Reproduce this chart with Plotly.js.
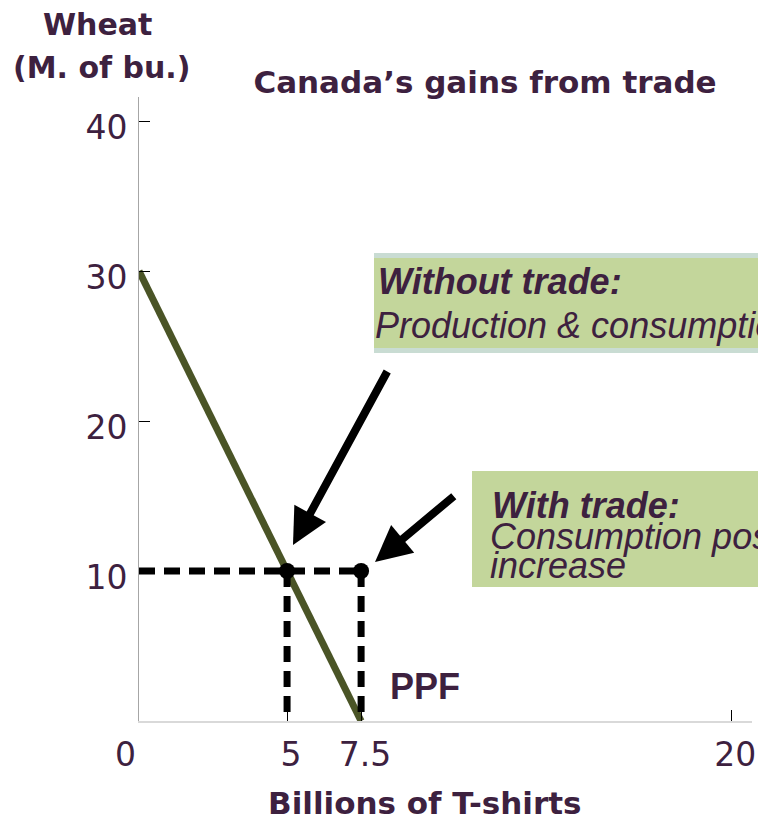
<!DOCTYPE html>
<html>
<head>
<meta charset="utf-8">
<script src="https://cdn.plot.ly/plotly-3.0.1.min.js"></script>
<style>html,body{margin:0;padding:0;background:#fff;}#chart{width:758px;height:822px;}</style>
</head>
<body>
<div id="chart"></div>
<script>
// ---- data ----
const ppfTshirts = [0, 7.5];
const ppfWheat = [30, 0];
const pointNames = ['Without trade', 'With trade'];
const pointTshirts = [5, 7.5];
const pointWheat = [10, 10];
const xTickVals = [5, 7.5, 20];
const xTickText = ['5', '7.5', '20'];
const yTickVals = [10, 20, 30, 40];
const yTickText = ['10', '20', '30', '40'];

const TXT = '#3d213f';
const WIDE = 'DejaVu Sans';
const ARIAL = 'Liberation Sans, Arial';

// dashed guide lines built from the points
const dashX = [0, Math.max(...pointTshirts), null];
const dashY = [pointWheat[0], pointWheat[pointWheat.length - 1], null];
pointTshirts.forEach((t, i) => { dashX.push(t, t, null); dashY.push(pointWheat[i], 0, null); });

const traces = [
  {x: ppfTshirts, y: ppfWheat, mode: 'lines', name: 'PPF',
   line: {color: '#4a5426', width: 7}, hoverinfo: 'skip', cliponaxis: false},
  {x: dashX, y: dashY, mode: 'lines', name: 'guides',
   line: {color: '#000', width: 7, dash: '16px,9px'}, hoverinfo: 'skip'},
  {x: pointTshirts, y: pointWheat, mode: 'markers', name: 'points', text: pointNames,
   marker: {color: '#000', size: 16}, cliponaxis: false}
];

const W = 613, H = 624, L = 139, T = 97;
const px = v => (v - L) / W;          // pixel x -> paper
const py = v => (T + H - v) / H;      // pixel y -> paper

const layout = {
  width: 758, height: 822,
  margin: {l: L, r: 6, t: T, b: 101, pad: 0},
  paper_bgcolor: '#fff', plot_bgcolor: '#fff',
  showlegend: false,
  font: {family: WIDE, color: TXT},
  title: {text: 'Canada’s gains from trade', font: {family: WIDE, size: 31, weight: 'bold', color: TXT},
          x: 485 / 758, xanchor: 'center', xref: 'container', y: 1 - 82 / 822, yanchor: 'middle', yref: 'container'},
  xaxis: {range: [0, 20.7], showgrid: false, zeroline: false, showline: true, linecolor: '#d9d9d9', linewidth: 2,
          ticks: 'inside', ticklen: 11, tickcolor: '#000', tickwidth: 1,
          tickmode: 'array', tickvals: xTickVals, ticktext: xTickText, ticklabelshift: 4, ticklabelstandoff: 3,
          tickfont: {family: WIDE, size: 33, color: TXT}, fixedrange: true},
  yaxis: {range: [0, 41.6], showgrid: false, zeroline: false, showline: true, linecolor: '#a6a6a6', linewidth: 1,
          ticks: 'inside', ticklen: 11, tickcolor: '#000', tickwidth: 1,
          tickmode: 'array', tickvals: yTickVals, ticktext: yTickText, ticklabelstandoff: 4, ticklabelshift: 6,
          tickfont: {family: WIDE, size: 33, color: TXT}, fixedrange: true},
  shapes: [
    {type: 'rect', xref: 'paper', yref: 'paper', x0: px(374), x1: px(770), y0: py(353), y1: py(253),
     fillcolor: '#c9dcd3', line: {width: 0}, layer: 'below'},
    {type: 'rect', xref: 'paper', yref: 'paper', x0: px(374), x1: px(770), y0: py(348), y1: py(258),
     fillcolor: '#c3d69b', line: {width: 0}, layer: 'below'},
    {type: 'rect', xref: 'paper', yref: 'paper', x0: px(472), x1: px(770), y0: py(587), y1: py(471),
     fillcolor: '#c3d69b', line: {width: 0}, layer: 'below'}
  ],
  annotations: [
    // axis titles
    {text: '<b>Wheat</b>', xref: 'paper', yref: 'paper', x: px(97), y: py(25), xanchor: 'center', yanchor: 'middle',
     showarrow: false, font: {family: WIDE, size: 30, color: TXT}},
    {text: '<b>(M. of bu.)</b>', xref: 'paper', yref: 'paper', x: px(101), y: py(68), xanchor: 'center', yanchor: 'middle',
     showarrow: false, font: {family: WIDE, size: 30, color: TXT}},
    {text: '<b>Billions of T-shirts</b>', xref: 'paper', yref: 'paper', x: px(424), y: py(803), xanchor: 'center', yanchor: 'middle',
     showarrow: false, font: {family: WIDE, size: 31, color: TXT}},
    {text: '0', xref: 'paper', yref: 'paper', x: px(125), y: py(754), xanchor: 'center', yanchor: 'middle',
     showarrow: false, font: {family: WIDE, size: 33, color: TXT}},
    // PPF label
    {text: '<b>PPF</b>', xref: 'x', yref: 'y', x: 8.41, y: 2.27, xanchor: 'left', yanchor: 'middle',
     showarrow: false, font: {family: ARIAL, size: 36, color: TXT}},
    // box texts
    {text: '<b><i>Without trade:</i></b>', xref: 'paper', yref: 'paper', x: px(376), y: py(281), xanchor: 'left', yanchor: 'middle',
     showarrow: false, font: {family: ARIAL, size: 36, color: TXT}},
    {text: '<i>Production & consumption</i>', xref: 'paper', yref: 'paper', x: px(373), y: py(325), xanchor: 'left', yanchor: 'middle',
     showarrow: false, font: {family: ARIAL, size: 36, color: TXT}},
    {text: '<b><i>With trade:</i></b>', xref: 'paper', yref: 'paper', x: px(490), y: py(505), xanchor: 'left', yanchor: 'middle',
     showarrow: false, font: {family: ARIAL, size: 36, color: TXT}},
    {text: '<i>Consumption possibilities</i>', xref: 'paper', yref: 'paper', x: px(488), y: py(536), xanchor: 'left', yanchor: 'middle',
     showarrow: false, font: {family: ARIAL, size: 36, color: TXT}},
    {text: '<i>increase</i>', xref: 'paper', yref: 'paper', x: px(488), y: py(565), xanchor: 'left', yanchor: 'middle',
     showarrow: false, font: {family: ARIAL, size: 36, color: TXT}},
    // arrows
    {text: '', xref: 'x', yref: 'y', axref: 'x', ayref: 'y', x: 5.2, y: 11.73, ax: 8.41, ay: 23.4,
     showarrow: true, arrowhead: 2, arrowsize: 0.9, arrowwidth: 8, arrowcolor: '#000', standoff: 0},
    {text: '', xref: 'x', yref: 'y', axref: 'x', ayref: 'y', x: 7.97, y: 10.6, ax: 10.68, ay: 15.07,
     showarrow: true, arrowhead: 2, arrowsize: 0.9, arrowwidth: 8, arrowcolor: '#000', standoff: 0}
  ]
};

Plotly.newPlot('chart', traces, layout, {displayModeBar: false, staticPlot: true});
</script>
</body>
</html>
